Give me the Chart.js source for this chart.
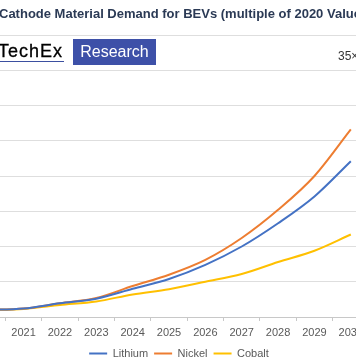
<!DOCTYPE html>
<html>
<head>
<meta charset="utf-8">
<script src="https://cdn.jsdelivr.net/npm/chart.js@4/dist/chart.umd.min.js"></script>
<style>
  html, body { margin:0; padding:0; background:#fff; }
  #wrap { position:relative; width:356px; height:364px; overflow:hidden; font-family:"Liberation Sans", Arial, sans-serif; }
  #c { position:absolute; left:-40px; top:0; }
  #title { position:absolute; left:-1px; top:6px; white-space:nowrap; font-weight:bold; font-size:13px; color:#2b3a55; }
  #logo1 { position:absolute; left:-2px; top:41px; font-size:18px; letter-spacing:1px; color:#000; white-space:nowrap; border-bottom:1.5px solid #3b4fa0; line-height:20px; padding-right:1px; -webkit-text-stroke:0.3px #000; }
  #logo2 { position:absolute; left:73px; top:39px; width:83px; height:26px; background:#3d50a8; color:#fff; font-size:16px; line-height:26px; text-align:center; }
  #note { position:absolute; left:338px; top:49px; font-size:12px; color:#333; white-space:nowrap; }
</style>
</head>
<body>
<div id="wrap">
  <canvas id="c" width="438" height="369"></canvas>
  <div id="title">Cathode Material Demand for BEVs (multiple of 2020 Value</div>
  <div id="logo1">TechEx</div>
  <div id="logo2">Research</div>
  <div id="note">35×</div>
</div>
<script>
const years = ["2020","2021","2022","2023","2024","2025","2026","2027","2028","2029","2030"];
const lithium = [1, 1.2, 1.95, 2.6, 4.0, 5.4, 7.4, 10.0, 13.3, 17.1, 22.1];
const nickel  = [1, 1.2, 1.95, 2.7, 4.4, 6.0, 8.1, 11.2, 15.2, 20.0, 26.6];
const cobalt  = [1, 1.15, 1.7, 2.2, 3.2, 3.95, 5.0, 6.1, 7.8, 9.4, 11.7];
const yTicks = [0, 5, 10, 15, 20, 25, 30, 35, 40];

const FONT = '"Liberation Sans", Arial, sans-serif';

function ds(label, data, color) {
  return { label, data, borderColor: color, backgroundColor: color, borderWidth: 2,
           pointRadius: 0, pointHoverRadius: 0, cubicInterpolationMode: 'monotone', fill: false };
}

const legendShift = {
  id: 'legendShift',
  beforeDraw(chart) {
    if (chart.legend && !chart.legend._shifted) {
      chart.legend.left += 10; chart.legend.right += 10; chart.legend._shifted = true;
    }
  }
};

new Chart(document.getElementById('c'), {
  type: 'line',
  data: {
    labels: years,
    datasets: [
      ds('Lithium', lithium, '#4472C4'),
      ds('Nickel', nickel, '#ED7D31'),
      ds('Cobalt', cobalt, '#FFC000')
    ]
  },
  plugins: [legendShift],
  options: {
    responsive: false,
    animation: false,
    layout: { padding: { left: 9, right: 29, top: 35, bottom: 0 } },
    plugins: {
      title: { display: false },
      tooltip: { enabled: false },
      legend: {
        position: 'bottom',
        labels: {
          usePointStyle: true, pointStyle: 'line', pointStyleWidth: 18,
          padding: 6, color: '#595959',
          font: { family: FONT, size: 11 }
        }
      }
    },
    scales: {
      x: {
        offset: true,
        afterFit: (axis) => { axis.height = 25; },
        grid: { display: true, drawOnChartArea: false, drawTicks: true, tickLength: 4, offset: true, color: '#c8c8c8' },
        border: { display: true, color: '#c8c8c8' },
        ticks: { color: '#595959', padding: 5, maxRotation: 0, autoSkip: false,
                 font: { family: FONT, size: 11 } }
      },
      y: {
        min: 0, max: 40,
        afterBuildTicks: (axis) => { axis.ticks = yTicks.map(v => ({ value: v })); },
        ticks: { display: false },
        border: { display: false },
        grid: { color: '#dedede', drawTicks: false }
      }
    }
  }
});
</script>
</body>
</html>
